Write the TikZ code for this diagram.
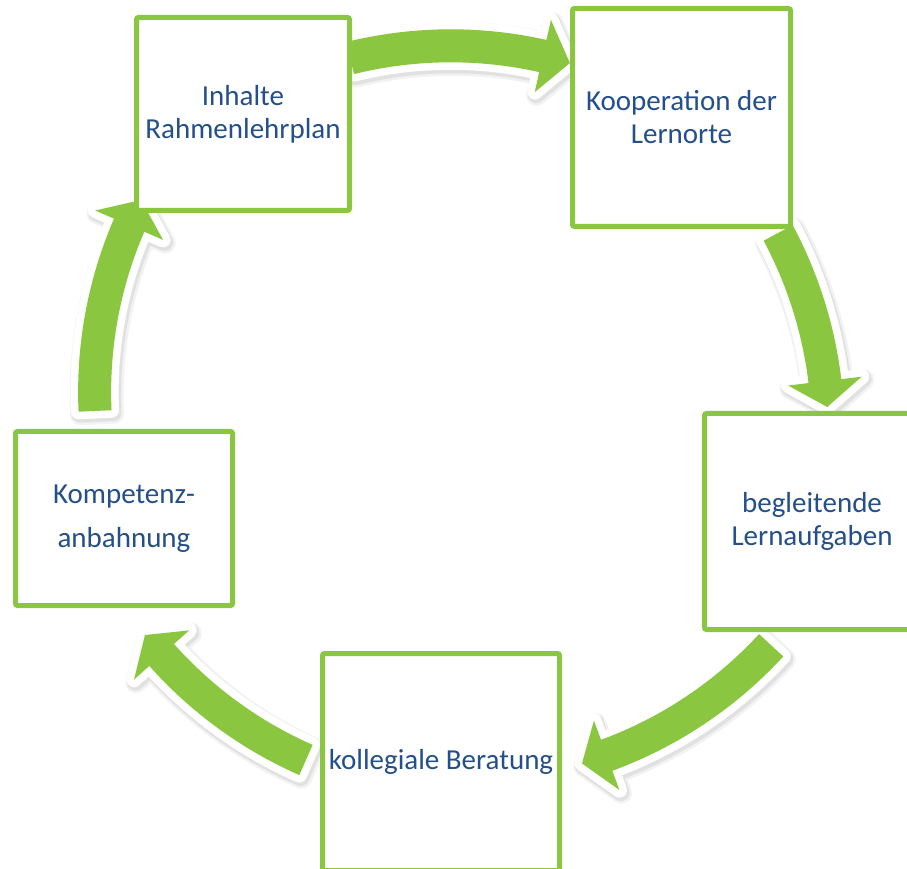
\documentclass[tikz,border=0pt]{standalone}
\usepackage{fontspec}
\setmainfont{Carlito}
\usepackage{xcolor}
\usetikzlibrary{calc,positioning}
\definecolor{cyclegreen}{RGB}{138,198,64}
\definecolor{cycleblue}{RGB}{36,79,138}

% band arrow on a ring: centre, tail angle, head base angle, tip angle
\newcommand{\ringarrow}[4]{%
  \begin{scope}[shift={(#1)}]
    \path[arrowband] (#2:436.5pt) arc[start angle=#2, end angle=#3, radius=436.5pt]
      -- (#3:457pt) -- (#4:420pt) -- (#3:383pt) -- (#3:403.5pt)
      arc[start angle=#3, end angle=#2, radius=403.5pt] -- cycle;
  \end{scope}}

\tikzset{
  cyclebox/.style={draw=cyclegreen, line width=5pt, fill=white, rounded corners=2pt,
    align=center, text=cycleblue, inner sep=0pt, font=\fontsize{29}{33}\selectfont},
  arrowband/.style={fill=cyclegreen, line join=round,
    preaction={draw=black, opacity=0.05, line width=21pt, line join=round,
      transform canvas={shift={(2pt,-3pt)}}},
    preaction={draw=black, opacity=0.07, line width=17pt, line join=round,
      transform canvas={shift={(1.5pt,-2.5pt)}}},
    preaction={draw=white, line width=15pt, line join=round}}
}

\begin{document}
\begin{tikzpicture}[x=1pt, y=1pt]
  \useasboundingbox (0,0) rectangle (907,868);
  \clip (0,0) rectangle (907,868);

  % arrows
  \coordinate (c1) at (450.8,402.2);
  \coordinate (c2) at (407.9,436.8);
  \coordinate (c3) at (462,507);
  \coordinate (c4) at (475.2,492.4);
  \coordinate (c5) at (514.6,476);
  \ringarrow{c1}{103.88}{77.34}{73.52}
  \ringarrow{c2}{28.17}{6.85}{3.30}
  \ringarrow{c3}{-42.6}{-69.85}{-73.4}
  \ringarrow{c4}{-113.76}{-138.3}{-141.85}
  \ringarrow{c5}{182.59}{156.6}{152.8}

  % boxes
  \node[cyclebox, minimum width=213pt, minimum height=193pt] (inhalte) at (243,754) {Inhalte\\Rahmenlehrplan};
  \node[cyclebox, minimum width=218pt, minimum height=218pt] (kooperation) at (681.5,750.5) {Kooperation der\\Lernorte};
  \node[cyclebox, minimum width=215pt, minimum height=216pt] (lernaufgaben) at (812,346.5) {begleitende\\Lernaufgaben};
  \node[cyclebox, minimum width=237pt, minimum height=217pt] (beratung) at (441,106) {kollegiale Beratung};
  \node[cyclebox, minimum width=217pt, minimum height=174pt] (kompetenz) at (124,349.5) {Kompetenz-\\[11pt]anbahnung};
\end{tikzpicture}
\end{document}
